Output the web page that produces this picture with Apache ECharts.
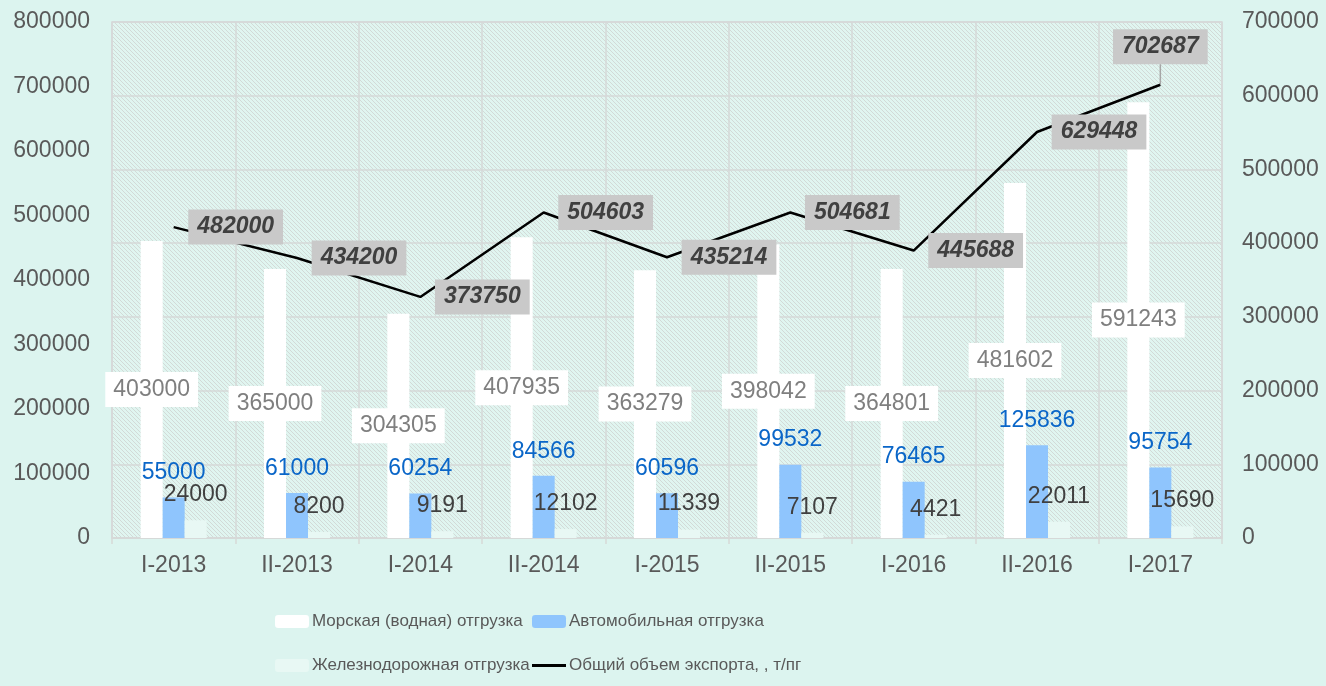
<!DOCTYPE html>
<html lang="ru">
<head>
    <meta charset="UTF-8">
    <title>Экспорт</title>
</head>
<body style="margin: 0; background: #dcf4ef">
<div id="container" style="height: 686px; width: 1326px;"></div>
<script type="text/javascript" src="https://cdn.jsdelivr.net/npm/echarts@6/dist/echarts.min.js"></script>
<script type="text/javascript">
    const categories = ['I-2013', 'II-2013', 'I-2014', 'II-2014', 'I-2015', 'II-2015', 'I-2016', 'II-2016', 'I-2017'];
    const seaValues = [403000, 365000, 304305, 407935, 363279, 398042, 364801, 481602, 591243];
    const autoValues = [55000, 61000, 60254, 84566, 60596, 99532, 76465, 125836, 95754];
    const railValues = [24000, 8200, 9191, 12102, 11339, 7107, 4421, 22011, 15690];
    const totalValues = [482000, 434200, 373750, 504603, 435214, 504681, 445688, 629448, 702687];

    const seriesNames = ['Морская (водная) отгрузка', 'Автомобильная отгрузка', 'Железнодорожная отгрузка', 'Общий объем экспорта, , т/пг'];

    // hatch pattern for the plot area
    const tile = document.createElement('canvas');
    tile.width = 4;
    tile.height = 4;
    const ctx = tile.getContext('2d');
    ctx.fillStyle = '#e0f5f0';
    ctx.fillRect(0, 0, 4, 4);
    ctx.fillStyle = '#d2dad7';
    for (let i = 0; i < 4; i++) {
        ctx.fillRect(i, i, 1, 1);
    }

    const font = 'Liberation Sans, Arial, sans-serif';
    const boxStyle = {
        color: '#404040',
        fontSize: 23,
        fontWeight: 'bold',
        fontStyle: 'italic',
        fontFamily: font,
        backgroundColor: '#c9c9c9',
        padding: [6, 9]
    };

    const dom = document.getElementById('container');
    const myChart = echarts.init(dom, null, {renderer: 'canvas'});

    function legendAt(name, left, top, isLine) {
        return {
            data: [isLine ? {name: name, icon: 'rect', itemStyle: {color: '#000000'}} : name],
            left: left,
            top: top,
            itemWidth: 34,
            itemHeight: isLine ? 3 : 13,
            itemGap: 0,
            textStyle: {color: '#595959', fontSize: 17, fontFamily: font, padding: [0, 0, 0, -2]}
        };
    }

    function plain(value) {
        return String(value);
    }

    const option = {
        backgroundColor: '#dcf4ef',
        animation: false,
        legend: [
            legendAt(seriesNames[0], 270, 608),
            legendAt(seriesNames[1], 527, 608),
            legendAt(seriesNames[2], 270, 652),
            legendAt(seriesNames[3], 527, 652, true)
        ],
        grid: {
            left: 112,
            right: 104,
            top: 22,
            bottom: 148,
            show: true,
            borderColor: '#d6d9d8',
            borderWidth: 1.5,
            backgroundColor: {image: tile, repeat: 'repeat'}
        },
        xAxis: {
            type: 'category',
            data: categories,
            axisLine: {lineStyle: {color: '#d6d9d8', width: 1.5}},
            axisTick: {show: true, length: 6, lineStyle: {color: '#d6d9d8', width: 1.5}},
            splitLine: {show: true, lineStyle: {color: '#d6d9d8', width: 1.5}},
            axisLabel: {color: '#595959', fontSize: 23, fontFamily: font, margin: 16}
        },
        yAxis: [
            {
                type: 'value',
                min: 0,
                max: 800000,
                interval: 100000,
                splitLine: {show: false},
                axisLine: {show: false},
                axisTick: {show: false},
                axisLabel: {color: '#595959', fontSize: 23, fontFamily: font, margin: 22, formatter: plain}
            },
            {
                type: 'value',
                min: 0,
                max: 700000,
                interval: 100000,
                position: 'right',
                splitLine: {show: true, lineStyle: {color: '#d6d9d8', width: 1.5}},
                axisLine: {show: false},
                axisTick: {show: false},
                axisLabel: {color: '#595959', fontSize: 23, fontFamily: font, margin: 20, formatter: plain}
            }
        ],
        series: [
            {
                name: seriesNames[0],
                type: 'bar',
                yAxisIndex: 1,
                data: seaValues,
                barWidth: 22,
                barGap: '0%',
                itemStyle: {color: '#ffffff'},
                label: {
                    show: true,
                    position: 'inside',
                    color: '#7f7f7f',
                    fontSize: 23,
                    fontFamily: font,
                    backgroundColor: '#ffffff',
                    padding: [6, 8]
                }
            },
            {
                name: seriesNames[1],
                type: 'bar',
                yAxisIndex: 1,
                data: autoValues,
                barWidth: 22,
                barGap: '0%',
                itemStyle: {color: '#8fc5fd'},
                label: {
                    show: true,
                    position: 'top',
                    distance: 13,
                    color: '#0a66c8',
                    fontSize: 23,
                    fontFamily: font
                }
            },
            {
                name: seriesNames[2],
                type: 'bar',
                yAxisIndex: 1,
                data: railValues,
                barWidth: 22,
                barGap: '0%',
                itemStyle: {color: '#e8f8f4'},
                label: {
                    show: true,
                    position: 'top',
                    distance: 14,
                    color: '#404040',
                    fontSize: 23,
                    fontFamily: font
                }
            },
            {
                name: seriesNames[3],
                type: 'line',
                yAxisIndex: 0,
                symbol: 'circle',
                symbolSize: 0,
                showSymbol: true,
                z: 5,
                lineStyle: {color: '#000000', width: 2.5},
                itemStyle: {color: '#000000'},
                label: Object.assign({show: true, position: 'inside'}, boxStyle),
                labelLayout: function (params) {
                    if (params.dataIndex === totalValues.length - 1) {
                        return {dy: -28};
                    }
                    return {dx: 62};
                }
            }
        ]
    };
    // last label sits above its point with a short grey leader under the box
    option.series[3].data = totalValues.map(function (v, i) {
        if (i === totalValues.length - 1) {
            return {
                value: v,
                label: {
                    formatter: '{box|{c}}\n{stem|}',
                    backgroundColor: 'transparent',
                    padding: 0,
                    rich: {
                        box: boxStyle,
                        stem: {width: 1.5, height: 20, backgroundColor: '#a6a6a6'}
                    }
                }
            };
        }
        return v;
    });
    myChart.setOption(option);
</script>
</body>
</html>
